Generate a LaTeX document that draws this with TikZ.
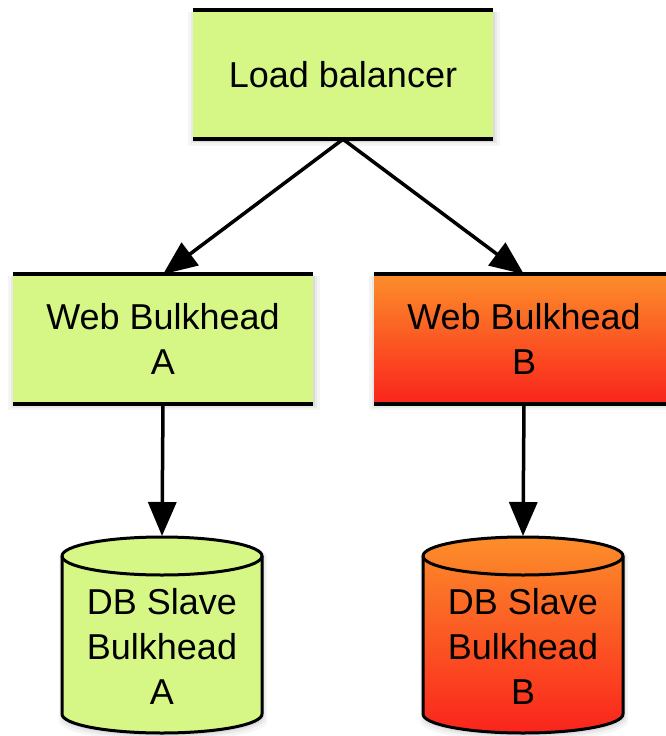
\documentclass[tikz,border=0pt]{standalone}
\usepackage{fontspec}
\setmainfont{Liberation Sans}
\usetikzlibrary{arrows.meta,shadows}
\definecolor{lgreen}{RGB}{214,247,134}
\definecolor{otop}{RGB}{252,142,42}
\definecolor{obot}{RGB}{250,36,28}
\tikzset{
  fuzzy/.style={
    drop shadow={shadow xshift=1pt,shadow yshift=-4pt,opacity=0.08,shadow scale=1.04},
    drop shadow={shadow xshift=1pt,shadow yshift=-3pt,opacity=0.10,shadow scale=1.022},
    drop shadow={shadow xshift=1pt,shadow yshift=-2pt,opacity=0.13,shadow scale=1.008}},
  txt/.style={font=\fontsize{36}{45}\selectfont, align=center, inner sep=0pt},
  boxnode/.style={rectangle, minimum width=300pt, minimum height=129pt, inner sep=0pt, txt, fuzzy},
  greenfill/.style={fill=lgreen},
  redfill/.style={top color=otop, bottom color=obot},
  edgeline/.style={line width=4pt},
  cylline/.style={line width=3pt},
  arr/.style={line width=3.5pt, -{Triangle[length=34pt,width=28pt]}},
}
\begin{document}
\begin{tikzpicture}[x=1pt,y=1pt]
\useasboundingbox (0,0) rectangle (665,-736);
\fill[white] (0,0) rectangle (665,-736);

% boxes
\node[boxnode, greenfill] (lb) at (343,-74.5) {Load balancer};
\node[boxnode, greenfill] (webA) at (163,-339) {Web Bulkhead\\A};
\node[boxnode, redfill] (webB) at (524,-339) {Web Bulkhead\\B};
\foreach \n in {lb,webA,webB}{
  \draw[edgeline] (\n.north west) -- (\n.north east);
  \draw[edgeline] (\n.south west) -- (\n.south east);
}

% cylinder A
\path[fuzzy, greenfill] (62,-556) arc[start angle=180,end angle=0,x radius=100pt,y radius=19pt]
  -- (262,-714) arc[start angle=0,end angle=-180,x radius=100pt,y radius=19pt] -- cycle;
\draw[cylline] (62,-556) arc[start angle=180,end angle=0,x radius=100pt,y radius=19pt]
  -- (262,-714) arc[start angle=0,end angle=-180,x radius=100pt,y radius=19pt] -- cycle;
\draw[cylline] (62,-556) arc[start angle=180,end angle=360,x radius=100pt,y radius=19pt];
\coordinate (dbAtop) at (162,-536);
\node[txt] (dbA) at (162,-646) {DB Slave\\Bulkhead\\A};

% cylinder B
\path[fuzzy, redfill] (423,-556) arc[start angle=180,end angle=0,x radius=100pt,y radius=19pt]
  -- (623,-714) arc[start angle=0,end angle=-180,x radius=100pt,y radius=19pt] -- cycle;
\draw[cylline] (423,-556) arc[start angle=180,end angle=0,x radius=100pt,y radius=19pt]
  -- (623,-714) arc[start angle=0,end angle=-180,x radius=100pt,y radius=19pt] -- cycle;
\draw[cylline] (423,-556) arc[start angle=180,end angle=360,x radius=100pt,y radius=19pt];
\coordinate (dbBtop) at (523,-536);
\node[txt] (dbB) at (523,-646) {DB Slave\\Bulkhead\\B};

% connectors
\draw[arr] (lb.south) -- (webA.north);
\draw[arr] (lb.south) -- (webB.north);
\draw[arr] (webA.south) -- (dbAtop);
\draw[arr] (webB.south) -- (dbBtop);
\end{tikzpicture}
\end{document}
